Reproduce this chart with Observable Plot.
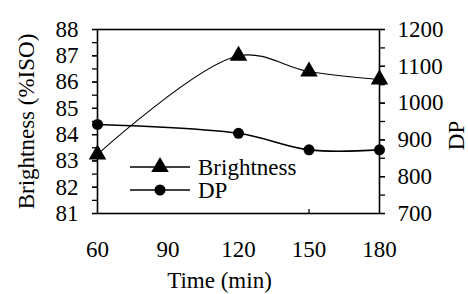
<!DOCTYPE html>
<html>
<head>
<meta charset="utf-8">
<script src="https://cdn.jsdelivr.net/npm/d3@7"></script>
<script src="https://cdn.jsdelivr.net/npm/@observablehq/plot@0.6"></script>
<style>
  html, body { margin: 0; padding: 0; background: #fff; }
  #wrap { position: relative; width: 468px; height: 294px; font-family: "Liberation Serif"; }
  #legend { position: absolute; left: 0; top: 0; pointer-events: none; }
</style>
</head>
<body>
<div id="wrap"></div>
<script>
// ---- data ----
const times = [60, 120, 150, 180];
const brightness = [83.25, 87.0, 86.4, 86.1];
const dp = [942, 918, 873, 873];
const xTicks = [60, 90, 120, 150, 180];
const xInnerTicks = [150];
const leftTicks = [81, 82, 83, 84, 85, 86, 87, 88];
const rightTicks = [700, 800, 900, 1000, 1100, 1200];
const seriesNames = ["Brightness", "DP"];

// map DP onto the brightness scale (secondary axis)
const bMin = 81, bMax = 88, dMin = 700, dMax = 1200;
const toB = d => bMin + (d - dMin) / (dMax - dMin) * (bMax - bMin);
const fromB = b => dMin + (b - bMin) / (bMax - bMin) * (dMax - dMin);

const bData = times.map((t, i) => ({t, v: brightness[i]}));
const dData = times.map((t, i) => ({t, v: toB(dp[i])}));

const leftMinor = d3.range(bMin, bMax + 0.001, 0.5);
const rightMinor = d3.range(dMin, dMax + 0.001, 50).map(toB);

const FONT = "Liberation Serif";
const FS = 23;
const chart = Plot.plot({
  width: 468,
  height: 294,
  marginLeft: 97,
  marginRight: 89,
  marginTop: 29,
  marginBottom: 81,
  style: {fontFamily: FONT, fontSize: FS + "px", color: "black", background: "white", overflow: "visible"},
  x: {domain: [60, 180]},
  y: {domain: [bMin, bMax]},
  marks: [
    // left axis
    Plot.axisY(leftMinor, {anchor: "left", tickSize: 5, tickFormat: () => "", label: null, strokeWidth: 1.3}),
    Plot.axisY(leftTicks, {anchor: "left", tickSize: 5, tickPadding: 14, tickFormat: d3.format("d"), label: null, strokeWidth: 1.3, fontSize: FS}),
    // right axis (DP)
    Plot.axisY(rightMinor, {anchor: "right", tickSize: 5, tickFormat: () => "", label: null, strokeWidth: 1.3}),
    Plot.axisY(rightTicks.map(toB), {anchor: "right", tickSize: 5, tickPadding: 13, tickFormat: v => String(Math.round(fromB(v))), label: null, strokeWidth: 1.3, fontSize: FS}),
    // bottom axis
    Plot.axisX(xInnerTicks, {anchor: "bottom", tickSize: -4, tickFormat: () => "", label: null, strokeWidth: 1.3}),
    Plot.axisX(xTicks, {anchor: "bottom", tickSize: 0, tickPadding: 27, tickFormat: d3.format("d"), label: null, fontSize: FS}),
    Plot.frame({stroke: "black", strokeWidth: 1.6}),
    // axis titles
    Plot.text(["Brightness (%ISO)"], {frameAnchor: "left", textAnchor: "middle", lineAnchor: "middle", rotate: -90, dx: -71, fontSize: FS, fill: "black"}),
    Plot.text(["DP"], {frameAnchor: "right", textAnchor: "middle", lineAnchor: "middle", rotate: -90, dx: 77, dy: 14, fontSize: FS, fill: "black"}),
    Plot.text(["Time (min)"], {frameAnchor: "bottom", textAnchor: "middle", lineAnchor: "middle", dx: -19, dy: 67, fontSize: FS, fill: "black"}),
    // series
    Plot.line(bData, {x: "t", y: "v", curve: "catmull-rom", stroke: "black", strokeWidth: 1.1}),
    Plot.line(dData, {x: "t", y: "v", curve: "catmull-rom", stroke: "black", strokeWidth: 1.6}),
    Plot.dot(bData, {x: "t", y: "v", symbol: "triangle", r: 6.5, fill: "black", stroke: "none"}),
    Plot.dot(dData, {x: "t", y: "v", symbol: "circle", r: 5.5, fill: "black", stroke: "none"})
  ]
});
d3.select(chart).selectAll("text").attr("font-family", FONT).style("font-family", FONT);

const wrap = document.getElementById("wrap");
wrap.appendChild(chart);

// legend overlay (inside plot area, like the original)
const lg = d3.create("svg").attr("id", "legend").attr("width", 468).attr("height", 294);
const rows = [{name: seriesNames[0], sym: d3.symbolTriangle, y: 167, r: 6.5}, {name: seriesNames[1], sym: d3.symbolCircle, y: 190, r: 5.5}];
for (const r of rows) {
  lg.append("line").attr("x1", 130).attr("x2", 190).attr("y1", r.y).attr("y2", r.y).attr("stroke", "black").attr("stroke-width", 1.5);
  lg.append("path").attr("d", d3.symbol(r.sym, r.r * r.r * Math.PI)()).attr("transform", `translate(160,${r.y})`).attr("fill", "black");
  lg.append("text").attr("x", 198).attr("y", r.y).attr("dy", "0.35em").attr("font-size", FS).attr("font-family", FONT).style("font-family", FONT).text(r.name);
}
wrap.appendChild(lg.node());
</script>
</body>
</html>
